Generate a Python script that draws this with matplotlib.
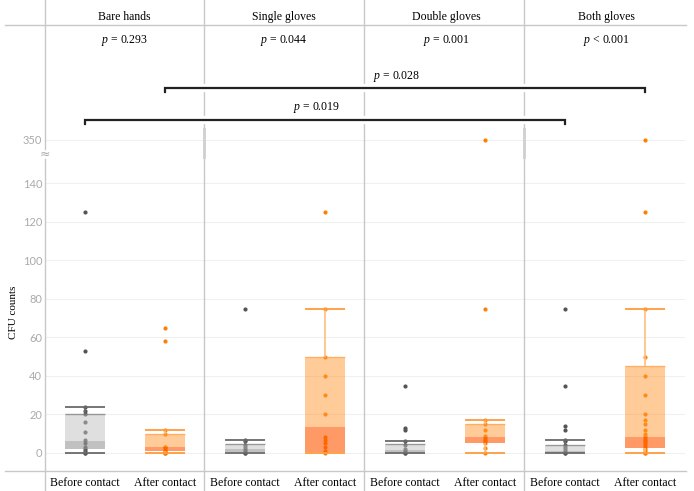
import numpy as np
import matplotlib
matplotlib.use("Agg")
import matplotlib.pyplot as plt
from matplotlib.lines import Line2D
from matplotlib.transforms import blended_transform_factory
import matplotlib.patheffects as pe

plt.rcParams['mathtext.fontset'] = 'custom'
plt.rcParams['mathtext.it'] = 'Liberation Serif:italic'
plt.rcParams['mathtext.rm'] = 'Liberation Serif'

# ---------------- data ----------------
groups = ["Bare hands", "Single gloves", "Double gloves", "Both gloves"]
group_p = ["0.293", "0.044", "0.001", "< 0.001"]
conditions = ["Before contact", "After contact"]
y_ticks = [0, 20, 40, 60, 80, 100, 120, 140, 350]

# points per group: (before, after)
bare_before = [0, 0, 1, 2, 3, 5, 7, 11, 16, 20, 22, 24, 53, 125]
bare_after = [0, 0, 0, 1, 1, 2, 3, 3, 10, 12, 58, 65]
single_before = [0, 0, 1, 2, 3, 4, 6, 7, 75]
single_after = [0, 1, 3, 5, 7, 8.5, 20, 30, 40, 50, 75, 125]
double_before = [0, 0, 1, 2, 4, 6, 12, 13, 35]
double_after = [0, 2.5, 5, 6, 7, 8, 9, 12, 15, 17, 75, 350]
both_before = [0, 0, 1, 2, 3, 4, 6, 7, 12, 14, 35, 75]
both_after = [0, 0, 1, 2, 3, 4, 5, 6, 7, 8, 9, 10, 12, 15, 17, 20, 30, 40, 50, 75, 125, 350]

# box stats: [lower whisker, q1, median, q3, upper whisker]
bare_before_box = [0, 2, 6, 20, 24]
bare_after_box = [0, 1, 3, 10, 12]
single_before_box = [0, 0.5, 2, 4.5, 7]
single_after_box = [0, 0.5, 13.5, 50, 75]
double_before_box = [0, 0, 1.5, 4.5, 6]
double_after_box = [0, 5, 8.5, 15, 17]
both_before_box = [0, 0, 1, 4, 7]
both_after_box = [0, 2.5, 8.5, 45, 75]

points = [bare_before, bare_after, single_before, single_after,
          double_before, double_after, both_before, both_after]
boxes = [bare_before_box, bare_after_box, single_before_box, single_after_box,
         double_before_box, double_after_box, both_before_box, both_after_box]

# comparisons: (index from, index to, p text, fig-y px)
comparisons = [(1, 7, "0.028", 88), (0, 6, "0.019", 120)]

# ---------------- figure ----------------
W, H = 694, 491
fig = plt.figure(figsize=(W / 100, H / 100), dpi=100)


def fx(x):
    return x / W


def fy(y):
    return 1 - y / H


ax = fig.add_axes([fx(45), fy(471), 640 / W, 343 / H])


def fwd(v):
    v = np.asarray(v, dtype=float)
    return np.where(v <= 150, v, 150 + (v - 150) * 0.063)


def inv(u):
    u = np.asarray(u, dtype=float)
    return np.where(u <= 150, u, 150 + (u - 150) / 0.063)


ax.set_yscale('function', functions=(fwd, inv))
ax.set_xlim(0, 8)
ax.set_ylim(-9.35, 448)
ax.set_yticks(y_ticks)
ax.set_yticklabels([str(t) for t in y_ticks], color='#aaaaaa', fontsize=8, family='Lato')
ax.tick_params(axis='y', length=0, pad=2)
ax.set_xticks([])
for s in ax.spines.values():
    s.set_visible(False)
ax.grid(axis='y', color='#f0f0f0', linewidth=0.8)
ax.set_axisbelow(True)

xpos = [i + 0.5 for i in range(8)]
bw = 0.49
styles = [
    dict(pt='#555555', light='#c0c0c0', la=0.5, dark='#999999', da=0.6,
         cap='#6a6a6a', whisk='#6a6a6a'),
    dict(pt='#ff8000', light='#ff9933', la=0.5, dark='#ff5500', da=0.6,
         cap='#ff9a3c', whisk='#ffbf80'),
]

for i, (pts, st) in enumerate(zip(points, boxes)):
    sty = styles[i % 2]
    x = xpos[i]
    lo, q1, med, q3, hi = st
    ax.scatter([x] * len(pts), pts, s=9, color=sty['pt'], zorder=2, linewidths=0)
    ax.bar(x, q3 - med, bottom=med, width=bw, color=sty['light'], alpha=sty['la'],
           zorder=3, linewidth=0)
    ax.bar(x, med - q1, bottom=q1, width=bw, color=sty['dark'], alpha=sty['da'],
           zorder=3, linewidth=0)
    ax.hlines(q3, x - bw / 2, x + bw / 2, color=sty['cap'], alpha=0.6, lw=1, zorder=4)
    ax.vlines(x, q3, hi, color=sty['whisk'], lw=1.2, zorder=4)
    ax.vlines(x, lo, q1, color=sty['whisk'], lw=1.2, zorder=4)
    ax.hlines([lo, hi], x - bw / 2, x + bw / 2, color=sty['cap'], lw=1.3, zorder=4)

# ---------------- frame lines ----------------
lc = '#c8c8c8'


def fline(x0, y0, x1, y1, lw=1.0, color=lc, z=1):
    fig.add_artist(Line2D([fx(x0), fx(x1)], [fy(y0), fy(y1)], color=color, lw=lw, zorder=z))


fline(5, 25, 686, 25)
fline(5, 471, 686, 471)
fline(45, 0, 45, 149)
fline(45, 159, 45, 491)
for xs in [204, 364, 524]:
    fline(xs, 0, xs, 491)
for xs in [204, 524]:
    fline(xs, 129, xs, 157, lw=2, color='#d0d0d0')
fig.text(fx(45), fy(154), '≈', ha='center', va='center', color='#aaaaaa', fontsize=9,
         family='DejaVu Sans', zorder=2)

# ---------------- header ----------------
serif = 'Liberation Serif'
centers = [124.5, 284, 446, 606]
for c, g, p in zip(centers, groups, group_p):
    fig.text(fx(c), fy(17), g, ha='center', va='center', fontsize=8.5, family=serif)
    ptxt = r'$p$ < 0.001' if p.startswith('<') else r'$p$ = ' + p
    fig.text(fx(c), fy(40), ptxt, ha='center', va='center', fontsize=8.5, family=serif)

# ---------------- brackets ----------------
tr = blended_transform_factory(ax.transData, fig.transFigure)
stroke = [pe.Stroke(linewidth=6, foreground='white'), pe.Normal()]
for a, b, p, ypx in comparisons:
    xa, xb = xpos[a], xpos[b]
    ln = Line2D([xa, xa, xb, xb], [fy(ypx + 4), fy(ypx), fy(ypx), fy(ypx + 4)],
                transform=tr, color='#222222', lw=1.6, zorder=5,
                solid_joinstyle='miter', path_effects=stroke)
    fig.add_artist(ln)
    fig.text((xa + xb) / 2 - 0.1, fy(ypx - 12), r'$p$ = ' + p, transform=tr,
             ha='center', va='center', fontsize=8.5, family=serif, zorder=6)

# ---------------- bottom labels ----------------
for i, x in enumerate(xpos):
    fig.text(x, fy(483), conditions[i % 2], transform=tr, ha='center', va='center',
             fontsize=8.5, family=serif)

fig.text(fx(14), fy(312), 'CFU counts', rotation=90, ha='center', va='center',
         fontsize=8, family=serif)

fig.savefig('out.png', dpi=100, facecolor='white')
